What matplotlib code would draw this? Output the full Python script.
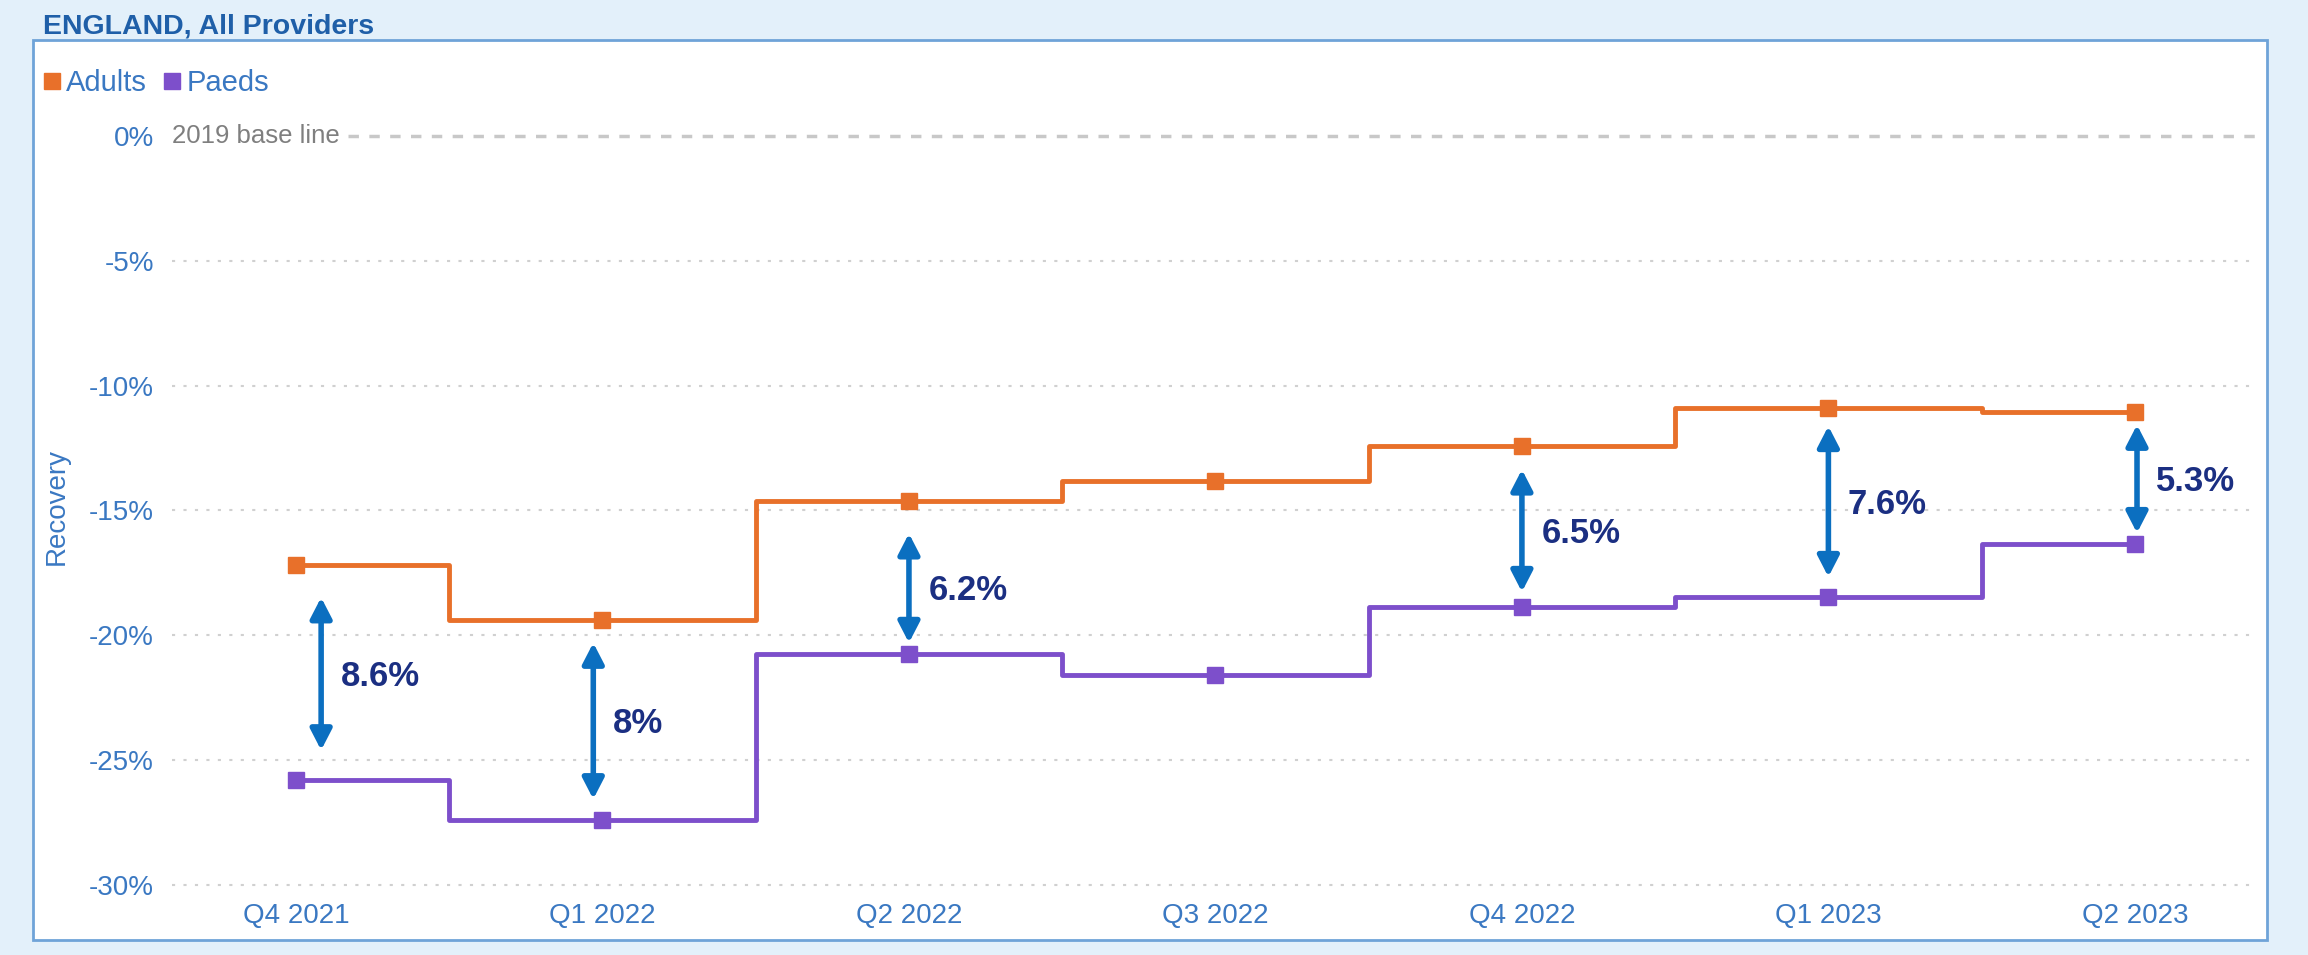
import matplotlib
matplotlib.use("Agg")
import matplotlib.pyplot as plt
from matplotlib.lines import Line2D
from matplotlib.patches import Rectangle

plt.rcParams['font.family'] = ['Liberation Sans', 'DejaVu Sans']

# data (% change vs 2019 base line)
quarters = ["Q4 2021", "Q1 2022", "Q2 2022", "Q3 2022", "Q4 2022", "Q1 2023", "Q2 2023"]
adults = [-17.2, -19.4, -14.6, -13.8, -12.4, -10.9, -11.05]
paeds = [-25.8, -27.4, -20.75, -21.6, -18.86, -18.46, -16.34]
yticks = [0, -5, -10, -15, -20, -25, -30]

# gap annotations: which quarter, and the label shown
gap_idx = [0, 1, 2, 4, 5, 6]
gap_labels = ["8.6%", "8%", "6.2%", "6.5%", "7.6%", "5.3%"]
# layout of the arrows (x nudge, gap under adults, gap above paeds)
arrow_dx = [0.082, -0.03, 0.0, 0.0, 0.0, 0.007]
top_gap = [1.28, 0.9, 1.32, 0.96, 0.72, 0.52]
bot_gap = [1.2, 0.84, 0.45, 0.6, 0.8, 0.44]

ORANGE = "#e8702a"
PURPLE = "#7d4fcb"
TXT_BLUE = "#3a78c2"
ARROW = "#0b6fc0"
NAVY = "#1b2f82"

W, H = 2308, 955
fig = plt.figure(figsize=(W / 100, H / 100), dpi=100)
fig.patch.set_facecolor("#e3f0fa")

# white panel with blue border
fig.patches.append(Rectangle((33 / W, 1 - 940 / H), 2234 / W, 900 / H,
                             transform=fig.transFigure, facecolor="white",
                             edgecolor="#6fa3d8", lw=2, zorder=-10))

fig.text(43 / W, 1 - 33 / H, "ENGLAND, All Providers", fontsize=20.5,
         fontweight="bold", color="#1f5fa8", va="baseline", ha="left")

ax = fig.add_axes([172 / W, 1 - 900 / H, (2255 - 172) / W, (900 - 121) / H])
ax.set_facecolor("none")
x = list(range(len(quarters)))

ax.plot(x, adults, drawstyle="steps-mid", color=ORANGE, lw=3.5,
        marker="s", ms=11, zorder=3)
ax.plot(x, paeds, drawstyle="steps-mid", color=PURPLE, lw=3.5,
        marker="s", ms=11, zorder=3)

for k, i in enumerate(gap_idx):
    xa = i + arrow_dx[k]
    y1 = adults[i] - top_gap[k]
    y2 = paeds[i] + bot_gap[k]
    ax.annotate("", xy=(xa, y2), xytext=(xa, y1),
                arrowprops=dict(arrowstyle="<|-|>,head_length=0.62,head_width=0.32",
                                color=ARROW, lw=4, shrinkA=0, shrinkB=0,
                                mutation_scale=20), zorder=4)
    ax.annotate(gap_labels[k], xy=(xa, (y1 + y2) / 2 - 0.1), xytext=(14, 0),
                textcoords="offset points", ha="left", va="center",
                fontsize=25, fontweight="bold", color=NAVY, zorder=5)

ax.set_xlim(-0.4046, 6.392)
ax.set_ylim(-30.6, 0.6)
ax.set_xticks(x)
ax.set_xticklabels(quarters)
ax.set_yticks(yticks)
ax.set_yticklabels([f"{v}%" for v in yticks])
ax.tick_params(axis="both", length=0, labelsize=20, labelcolor=TXT_BLUE)
ax.tick_params(axis="y", pad=13)
ax.tick_params(axis="x", pad=2)
for s in ax.spines.values():
    s.set_visible(False)

for v in yticks[1:]:
    ax.axhline(v, color="#d0d0d0", lw=1.5, ls=(0, (1.5, 4)), zorder=1)
ax.axhline(0, xmin=0.0845, xmax=1, color="#c8c8c8", lw=2.5, ls=(0, (3, 3)), zorder=1)
ax.text(0.0, 0, "2019 base line", transform=ax.get_yaxis_transform(),
        ha="left", va="center", fontsize=18.5, color="#7f7f7f")

ax.set_ylabel("Recovery", fontsize=20, color=TXT_BLUE)
ax.yaxis.set_label_coords(-0.049, 0.5045)

handles = [Line2D([], [], ls="none", marker="s", ms=12, color=ORANGE),
           Line2D([], [], ls="none", marker="s", ms=12, color=PURPLE)]
fig.legend(handles, ["Adults", "Paeds"], loc="center left",
           bbox_to_anchor=(40 / W, 1 - 83 / H), ncol=2, frameon=False,
           handlelength=0.8, handletextpad=0.1, columnspacing=0.45,
           borderpad=0, borderaxespad=0, fontsize=21, labelcolor=TXT_BLUE)

fig.savefig("out.png", dpi=100, facecolor=fig.get_facecolor())
